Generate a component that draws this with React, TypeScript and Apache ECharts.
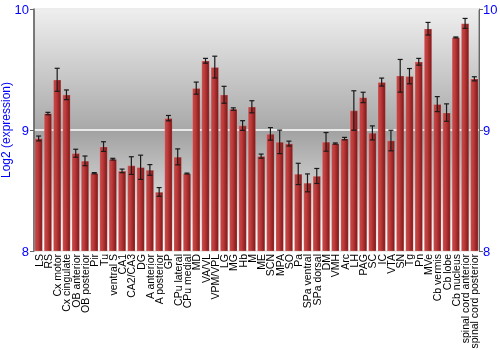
import React, { useEffect, useRef } from "react";
import * as echarts from "echarts";

const categories = ["LS","RS","Cx motor","Cx cingulate","OB anterior","OB posterior","Pir","Tu","ventral S","CA1","CA2/CA3","DG","A anterior","A posterior","GP","CPu lateral","CPu medial","MD","VA/VL","VPM/VPL","LG","MG","Hb","M","ME","SCN","MPA","SO","Pa","SPa ventral","SPa dorsal","DM","VMH","Arc","LH","PAG","SC","IC","VTA","SN","Tg","Pn","MVe","Cb vermis","Cb lobe","Cb nucleus","spinal cord anterior","spinal cord posterior"];

const values = [8.93,9.136,9.415,9.291,8.808,8.745,8.643,8.863,8.759,8.662,8.706,8.692,8.67,8.488,9.098,8.778,8.64,9.346,9.572,9.52,9.291,9.173,9.037,9.192,8.784,8.968,8.902,8.888,8.637,8.563,8.62,8.902,8.888,8.929,9.161,9.269,8.976,9.396,8.913,9.448,9.445,9.564,9.837,9.214,9.144,9.765,9.881,9.423];

const errors = [0.02,0.01,0.095,0.04,0.033,0.04,0.005,0.04,0.007,0.015,0.073,0.1,0.044,0.036,0.022,0.066,0.004,0.05,0.02,0.09,0.07,0.01,0.04,0.05,0.017,0.052,0.097,0.02,0.088,0.074,0.062,0.077,0.005,0.01,0.163,0.043,0.058,0.033,0.085,0.135,0.063,0.028,0.052,0.062,0.072,0.004,0.041,0.017];

const yTicks = { min: 8, max: 10, interval: 1 };

export default function App() {
  const ref = useRef<HTMLDivElement>(null);
  useEffect(() => {
    if (!ref.current) return;
    const chart = echarts.init(ref.current, null, { renderer: "svg" });
    const blue = "#0000ff";
    const font = "Liberation Sans, Arial, sans-serif";
    chart.setOption({
      animation: false,
      grid: {
        left: 34, right: 21, top: 9, bottom: 99,
        containLabel: false,
        outerBoundsMode: "none",
        show: true,
        borderColor: "#777",
        borderWidth: 1,
        backgroundColor: new echarts.graphic.LinearGradient(0, 0, 0, 1, [
          { offset: 0, color: "#efefef" },
          { offset: 0.495, color: "#a9a9a9" },
          { offset: 0.505, color: "#a2a2a2" },
          { offset: 1, color: "#ffffff" },
        ]),
      },
      xAxis: {
        type: "category",
        data: categories,
        axisLine: { show: false },
        axisTick: { show: false },
        axisLabel: {
          interval: 0,
          rotate: 90,
          color: "#000",
          fontSize: 10.5,
          fontFamily: font,
          margin: 3,
        },
      },
      yAxis: [
        {
          type: "value",
          min: yTicks.min, max: yTicks.max, interval: yTicks.interval,
          name: "Log2 (expression)",
          nameLocation: "middle",
          nameGap: 22,
          nameMoveOverlap: false,
          nameTextStyle: { color: blue, fontSize: 12, fontFamily: font },
          axisLine: { show: true, lineStyle: { color: "#666", width: 1.5 } },
          axisTick: { show: true, length: 4, lineStyle: { color: "#666" } },
          axisLabel: { color: blue, fontSize: 13, margin: 5, fontFamily: font },
          splitLine: { show: true, lineStyle: { color: "#ffffff", width: 1.5 } },
        },
        {
          type: "value",
          position: "right",
          min: yTicks.min, max: yTicks.max, interval: yTicks.interval,
          axisLine: { show: true, lineStyle: { color: "#666", width: 1 } },
          axisTick: { show: true, length: 4, lineStyle: { color: "#666" } },
          axisLabel: { color: blue, fontSize: 13, margin: 4, fontFamily: font },
          splitLine: { show: false },
        },
      ],
      series: [
        {
          type: "bar",
          data: values,
          barCategoryGap: "14%",
          itemStyle: {
            color: new echarts.graphic.LinearGradient(0, 0, 1, 0, [
              { offset: 0, color: "#c24848" },
              { offset: 0.35, color: "#c03c3c" },
              { offset: 1, color: "#7d1616" },
            ]),
            borderColor: "rgba(255,200,200,0.35)",
            borderWidth: 0.6,
          },
        },
        {
          type: "custom",
          data: values.map((v, i) => [i, v - errors[i], v + errors[i]]),
          renderItem: (params: any, api: any) => {
            const lo = api.coord([api.value(0), api.value(1)]);
            const hi = api.coord([api.value(0), api.value(2)]);
            const x = lo[0];
            const w = 2.5;
            const style = { stroke: "#1a1a1a", lineWidth: 1.2 };
            return {
              type: "group",
              children: [
                { type: "line", shape: { x1: x, y1: lo[1], x2: x, y2: hi[1] }, style },
                { type: "line", shape: { x1: x - w, y1: lo[1], x2: x + w, y2: lo[1] }, style },
                { type: "line", shape: { x1: x - w, y1: hi[1], x2: x + w, y2: hi[1] }, style },
              ],
            };
          },
          z: 10,
        },
      ],
    });
    return () => chart.dispose();
  }, []);
  return <div ref={ref} style={{ position: "fixed", left: 0, top: 0, width: 500, height: 350 }} />;
}
